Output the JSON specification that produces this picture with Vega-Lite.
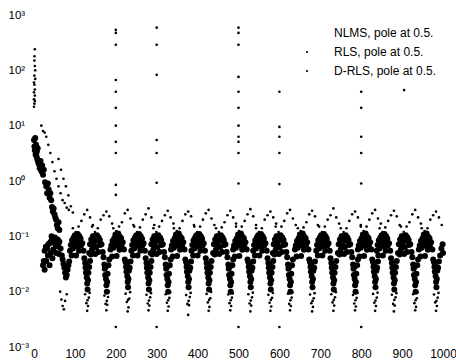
{
"$schema": "https://vega.github.io/schema/vega-lite/v6.json",
"width": 409, "height": 332,
"autosize": {"type": "none"},
"padding": {"left": 34, "top": 15, "right": 13, "bottom": 13},
"background": "white",
"config": {"view": {"stroke": null}, "font": "Liberation Sans"},
"datasets": {
"nlms": [
{"x":0,"y":5.5},{"x":1,"y":4.2},{"x":2,"y":3.6},{"x":3,"y":6.0},{"x":4,"y":3.0},{"x":5,"y":4.5},{"x":6,"y":2.8},{"x":7,"y":3.4},{"x":8,"y":2.5},{"x":9,"y":3.9},{"x":10,"y":2.2},{"x":12,"y":2.0},{"x":14,"y":1.7},{"x":16,"y":2.3},{"x":18,"y":1.5},{"x":20,"y":1.9},{"x":22,"y":1.3},{"x":24,"y":1.6},{"x":27,"y":0.95},{"x":30,"y":0.8},{"x":32,"y":0.6},{"x":34,"y":0.9},{"x":36,"y":0.7},{"x":38,"y":0.5},{"x":40,"y":0.6},{"x":42,"y":0.45},{"x":44,"y":0.34},{"x":46,"y":0.28},{"x":48,"y":0.32},{"x":50,"y":0.25},{"x":52,"y":0.22},{"x":54,"y":0.2},{"x":56,"y":0.16},{"x":58,"y":0.14},{"x":60,"y":0.18},{"x":62,"y":0.13},
{"x":26,"y":0.055},{"x":29,"y":0.065},{"x":32,"y":0.06},{"x":35,"y":0.072},{"x":38,"y":0.075},{"x":41,"y":0.08},{"x":44,"y":0.086},{"x":47,"y":0.082},{"x":50,"y":0.076},{"x":53,"y":0.07},{"x":56,"y":0.066},{"x":59,"y":0.072},{"x":62,"y":0.08},{"x":65,"y":0.06},{"x":34,"y":0.045},{"x":41,"y":0.05},{"x":47,"y":0.058},{"x":54,"y":0.05},{"x":61,"y":0.048},{"x":30,"y":0.036},{"x":38,"y":0.03},{"x":45,"y":0.04},{"x":22,"y":0.03},{"x":26,"y":0.025},{"x":24,"y":0.036},{"x":43,"y":0.1},{"x":51,"y":0.095},{"x":58,"y":0.088},{"x":68,"y":0.045},{"x":70,"y":0.038},{"x":72,"y":0.032},{"x":74,"y":0.027},{"x":76,"y":0.022},{"x":78,"y":0.018},{"x":80,"y":0.02},{"x":82,"y":0.025},{"x":84,"y":0.03},{"x":86,"y":0.035},{"x":79,"y":0.027},
{"x":88,"y":0.055},{"x":90,"y":0.07},{"x":92,"y":0.045},{"x":93,"y":0.085},{"x":95,"y":0.06},{"x":97,"y":0.095},{"x":98,"y":0.073},{"x":100,"y":0.105},{"x":101,"y":0.085},{"x":103,"y":0.045},{"x":104,"y":0.095},{"x":105,"y":0.066},{"x":107,"y":0.11},{"x":108,"y":0.08},{"x":110,"y":0.055},{"x":111,"y":0.1},{"x":114,"y":0.09},{"x":115,"y":0.068},{"x":118,"y":0.075},{"x":121,"y":0.055},{"x":123,"y":0.04},{"x":125,"y":0.033},{"x":126,"y":0.027},{"x":127,"y":0.022},{"x":128,"y":0.03},{"x":129,"y":0.018},{"x":130,"y":0.014},{"x":131,"y":0.011},{"x":132,"y":0.016},{"x":133,"y":0.022},{"x":135,"y":0.028},{"x":137,"y":0.036},
{"x":135,"y":0.05},{"x":137,"y":0.072},{"x":139,"y":0.047},{"x":140,"y":0.088},{"x":142,"y":0.058},{"x":144,"y":0.1},{"x":145,"y":0.07},{"x":147,"y":0.1},{"x":148,"y":0.082},{"x":150,"y":0.048},{"x":151,"y":0.098},{"x":152,"y":0.064},{"x":154,"y":0.105},{"x":155,"y":0.083},{"x":157,"y":0.052},{"x":158,"y":0.095},{"x":161,"y":0.086},{"x":162,"y":0.07},{"x":165,"y":0.072},{"x":168,"y":0.052},{"x":170,"y":0.042},{"x":172,"y":0.031},{"x":173,"y":0.026},{"x":174,"y":0.02},{"x":175,"y":0.028},{"x":176,"y":0.017},{"x":177,"y":0.013},{"x":178,"y":0.01},{"x":179,"y":0.015},{"x":180,"y":0.021},{"x":182,"y":0.03},{"x":184,"y":0.038},
{"x":187,"y":0.058},{"x":189,"y":0.068},{"x":191,"y":0.043},{"x":192,"y":0.082},{"x":194,"y":0.062},{"x":196,"y":0.092},{"x":197,"y":0.076},{"x":199,"y":0.108},{"x":200,"y":0.088},{"x":202,"y":0.044},{"x":203,"y":0.09},{"x":204,"y":0.068},{"x":206,"y":0.112},{"x":207,"y":0.078},{"x":209,"y":0.057},{"x":210,"y":0.098},{"x":213,"y":0.092},{"x":214,"y":0.066},{"x":217,"y":0.078},{"x":220,"y":0.058},{"x":222,"y":0.038},{"x":224,"y":0.034},{"x":225,"y":0.028},{"x":226,"y":0.023},{"x":227,"y":0.032},{"x":228,"y":0.019},{"x":229,"y":0.015},{"x":230,"y":0.012},{"x":231,"y":0.017},{"x":232,"y":0.024},{"x":234,"y":0.027},{"x":236,"y":0.035},
{"x":238,"y":0.055},{"x":240,"y":0.07},{"x":242,"y":0.045},{"x":243,"y":0.085},{"x":245,"y":0.06},{"x":247,"y":0.095},{"x":248,"y":0.073},{"x":250,"y":0.105},{"x":251,"y":0.085},{"x":253,"y":0.045},{"x":254,"y":0.095},{"x":255,"y":0.066},{"x":257,"y":0.11},{"x":258,"y":0.08},{"x":260,"y":0.055},{"x":261,"y":0.1},{"x":264,"y":0.09},{"x":265,"y":0.068},{"x":268,"y":0.075},{"x":271,"y":0.055},{"x":273,"y":0.04},{"x":275,"y":0.033},{"x":276,"y":0.027},{"x":277,"y":0.022},{"x":278,"y":0.03},{"x":279,"y":0.018},{"x":280,"y":0.014},{"x":281,"y":0.011},{"x":282,"y":0.016},{"x":283,"y":0.022},{"x":285,"y":0.028},{"x":287,"y":0.036},
{"x":285,"y":0.05},{"x":287,"y":0.072},{"x":289,"y":0.047},{"x":290,"y":0.088},{"x":292,"y":0.058},{"x":294,"y":0.1},{"x":295,"y":0.07},{"x":297,"y":0.1},{"x":298,"y":0.082},{"x":300,"y":0.048},{"x":301,"y":0.098},{"x":302,"y":0.064},{"x":304,"y":0.105},{"x":305,"y":0.083},{"x":307,"y":0.052},{"x":308,"y":0.095},{"x":311,"y":0.086},{"x":312,"y":0.07},{"x":315,"y":0.072},{"x":318,"y":0.052},{"x":320,"y":0.042},{"x":322,"y":0.031},{"x":323,"y":0.026},{"x":324,"y":0.02},{"x":325,"y":0.028},{"x":326,"y":0.017},{"x":327,"y":0.013},{"x":328,"y":0.01},{"x":329,"y":0.015},{"x":330,"y":0.021},{"x":332,"y":0.03},{"x":334,"y":0.038},
{"x":335,"y":0.058},{"x":337,"y":0.068},{"x":339,"y":0.043},{"x":340,"y":0.082},{"x":342,"y":0.062},{"x":344,"y":0.092},{"x":345,"y":0.076},{"x":347,"y":0.108},{"x":348,"y":0.088},{"x":350,"y":0.044},{"x":351,"y":0.09},{"x":352,"y":0.068},{"x":354,"y":0.112},{"x":355,"y":0.078},{"x":357,"y":0.057},{"x":358,"y":0.098},{"x":361,"y":0.092},{"x":362,"y":0.066},{"x":365,"y":0.078},{"x":368,"y":0.058},{"x":370,"y":0.038},{"x":372,"y":0.034},{"x":373,"y":0.028},{"x":374,"y":0.023},{"x":375,"y":0.032},{"x":376,"y":0.019},{"x":377,"y":0.015},{"x":378,"y":0.012},{"x":379,"y":0.017},{"x":380,"y":0.024},{"x":382,"y":0.027},{"x":384,"y":0.035},
{"x":385,"y":0.055},{"x":387,"y":0.07},{"x":389,"y":0.045},{"x":390,"y":0.085},{"x":392,"y":0.06},{"x":394,"y":0.095},{"x":395,"y":0.073},{"x":397,"y":0.105},{"x":398,"y":0.085},{"x":400,"y":0.045},{"x":401,"y":0.095},{"x":402,"y":0.066},{"x":404,"y":0.11},{"x":405,"y":0.08},{"x":407,"y":0.055},{"x":408,"y":0.1},{"x":411,"y":0.09},{"x":412,"y":0.068},{"x":415,"y":0.075},{"x":418,"y":0.055},{"x":420,"y":0.04},{"x":422,"y":0.033},{"x":423,"y":0.027},{"x":424,"y":0.022},{"x":425,"y":0.03},{"x":426,"y":0.018},{"x":427,"y":0.014},{"x":428,"y":0.011},{"x":429,"y":0.016},{"x":430,"y":0.022},{"x":432,"y":0.028},{"x":434,"y":0.036},
{"x":438,"y":0.05},{"x":440,"y":0.072},{"x":442,"y":0.047},{"x":443,"y":0.088},{"x":445,"y":0.058},{"x":447,"y":0.1},{"x":448,"y":0.07},{"x":450,"y":0.1},{"x":451,"y":0.082},{"x":453,"y":0.048},{"x":454,"y":0.098},{"x":455,"y":0.064},{"x":457,"y":0.105},{"x":458,"y":0.083},{"x":460,"y":0.052},{"x":461,"y":0.095},{"x":464,"y":0.086},{"x":465,"y":0.07},{"x":468,"y":0.072},{"x":471,"y":0.052},{"x":473,"y":0.042},{"x":475,"y":0.031},{"x":476,"y":0.026},{"x":477,"y":0.02},{"x":478,"y":0.028},{"x":479,"y":0.017},{"x":480,"y":0.013},{"x":481,"y":0.01},{"x":482,"y":0.015},{"x":483,"y":0.021},{"x":485,"y":0.03},{"x":487,"y":0.038},
{"x":487,"y":0.058},{"x":489,"y":0.068},{"x":491,"y":0.043},{"x":492,"y":0.082},{"x":494,"y":0.062},{"x":496,"y":0.092},{"x":497,"y":0.076},{"x":499,"y":0.108},{"x":500,"y":0.088},{"x":502,"y":0.044},{"x":503,"y":0.09},{"x":504,"y":0.068},{"x":506,"y":0.112},{"x":507,"y":0.078},{"x":509,"y":0.057},{"x":510,"y":0.098},{"x":513,"y":0.092},{"x":514,"y":0.066},{"x":517,"y":0.078},{"x":520,"y":0.058},{"x":522,"y":0.038},{"x":524,"y":0.034},{"x":525,"y":0.028},{"x":526,"y":0.023},{"x":527,"y":0.032},{"x":528,"y":0.019},{"x":529,"y":0.015},{"x":530,"y":0.012},{"x":531,"y":0.017},{"x":532,"y":0.024},{"x":534,"y":0.027},{"x":536,"y":0.035},
{"x":536,"y":0.055},{"x":538,"y":0.07},{"x":540,"y":0.045},{"x":541,"y":0.085},{"x":543,"y":0.06},{"x":545,"y":0.095},{"x":546,"y":0.073},{"x":548,"y":0.105},{"x":549,"y":0.085},{"x":551,"y":0.045},{"x":552,"y":0.095},{"x":553,"y":0.066},{"x":555,"y":0.11},{"x":556,"y":0.08},{"x":558,"y":0.055},{"x":559,"y":0.1},{"x":562,"y":0.09},{"x":563,"y":0.068},{"x":566,"y":0.075},{"x":569,"y":0.055},{"x":571,"y":0.04},{"x":573,"y":0.033},{"x":574,"y":0.027},{"x":575,"y":0.022},{"x":576,"y":0.03},{"x":577,"y":0.018},{"x":578,"y":0.014},{"x":579,"y":0.011},{"x":580,"y":0.016},{"x":581,"y":0.022},{"x":583,"y":0.028},{"x":585,"y":0.036},
{"x":584,"y":0.05},{"x":586,"y":0.072},{"x":588,"y":0.047},{"x":589,"y":0.088},{"x":591,"y":0.058},{"x":593,"y":0.1},{"x":594,"y":0.07},{"x":596,"y":0.1},{"x":597,"y":0.082},{"x":599,"y":0.048},{"x":600,"y":0.098},{"x":601,"y":0.064},{"x":603,"y":0.105},{"x":604,"y":0.083},{"x":606,"y":0.052},{"x":607,"y":0.095},{"x":610,"y":0.086},{"x":611,"y":0.07},{"x":614,"y":0.072},{"x":617,"y":0.052},{"x":619,"y":0.042},{"x":621,"y":0.031},{"x":622,"y":0.026},{"x":623,"y":0.02},{"x":624,"y":0.028},{"x":625,"y":0.017},{"x":626,"y":0.013},{"x":627,"y":0.01},{"x":628,"y":0.015},{"x":629,"y":0.021},{"x":631,"y":0.03},{"x":633,"y":0.038},
{"x":638,"y":0.058},{"x":640,"y":0.068},{"x":642,"y":0.043},{"x":643,"y":0.082},{"x":645,"y":0.062},{"x":647,"y":0.092},{"x":648,"y":0.076},{"x":650,"y":0.108},{"x":651,"y":0.088},{"x":653,"y":0.044},{"x":654,"y":0.09},{"x":655,"y":0.068},{"x":657,"y":0.112},{"x":658,"y":0.078},{"x":660,"y":0.057},{"x":661,"y":0.098},{"x":664,"y":0.092},{"x":665,"y":0.066},{"x":668,"y":0.078},{"x":671,"y":0.058},{"x":673,"y":0.038},{"x":675,"y":0.034},{"x":676,"y":0.028},{"x":677,"y":0.023},{"x":678,"y":0.032},{"x":679,"y":0.019},{"x":680,"y":0.015},{"x":681,"y":0.012},{"x":682,"y":0.017},{"x":683,"y":0.024},{"x":685,"y":0.027},{"x":687,"y":0.035},
{"x":690,"y":0.055},{"x":692,"y":0.07},{"x":694,"y":0.045},{"x":695,"y":0.085},{"x":697,"y":0.06},{"x":699,"y":0.095},{"x":700,"y":0.073},{"x":702,"y":0.105},{"x":703,"y":0.085},{"x":705,"y":0.045},{"x":706,"y":0.095},{"x":707,"y":0.066},{"x":709,"y":0.11},{"x":710,"y":0.08},{"x":712,"y":0.055},{"x":713,"y":0.1},{"x":716,"y":0.09},{"x":717,"y":0.068},{"x":720,"y":0.075},{"x":723,"y":0.055},{"x":725,"y":0.04},{"x":727,"y":0.033},{"x":728,"y":0.027},{"x":729,"y":0.022},{"x":730,"y":0.03},{"x":731,"y":0.018},{"x":732,"y":0.014},{"x":733,"y":0.011},{"x":734,"y":0.016},{"x":735,"y":0.022},{"x":737,"y":0.028},{"x":739,"y":0.036},
{"x":743,"y":0.05},{"x":745,"y":0.072},{"x":747,"y":0.047},{"x":748,"y":0.088},{"x":750,"y":0.058},{"x":752,"y":0.1},{"x":753,"y":0.07},{"x":755,"y":0.1},{"x":756,"y":0.082},{"x":758,"y":0.048},{"x":759,"y":0.098},{"x":760,"y":0.064},{"x":762,"y":0.105},{"x":763,"y":0.083},{"x":765,"y":0.052},{"x":766,"y":0.095},{"x":769,"y":0.086},{"x":770,"y":0.07},{"x":773,"y":0.072},{"x":776,"y":0.052},{"x":778,"y":0.042},{"x":780,"y":0.031},{"x":781,"y":0.026},{"x":782,"y":0.02},{"x":783,"y":0.028},{"x":784,"y":0.017},{"x":785,"y":0.013},{"x":786,"y":0.01},{"x":787,"y":0.015},{"x":788,"y":0.021},{"x":790,"y":0.03},{"x":792,"y":0.038},
{"x":792,"y":0.058},{"x":794,"y":0.068},{"x":796,"y":0.043},{"x":797,"y":0.082},{"x":799,"y":0.062},{"x":801,"y":0.092},{"x":802,"y":0.076},{"x":804,"y":0.108},{"x":805,"y":0.088},{"x":807,"y":0.044},{"x":808,"y":0.09},{"x":809,"y":0.068},{"x":811,"y":0.112},{"x":812,"y":0.078},{"x":814,"y":0.057},{"x":815,"y":0.098},{"x":818,"y":0.092},{"x":819,"y":0.066},{"x":822,"y":0.078},{"x":825,"y":0.058},{"x":827,"y":0.038},{"x":829,"y":0.034},{"x":830,"y":0.028},{"x":831,"y":0.023},{"x":832,"y":0.032},{"x":833,"y":0.019},{"x":834,"y":0.015},{"x":835,"y":0.012},{"x":836,"y":0.017},{"x":837,"y":0.024},{"x":839,"y":0.027},{"x":841,"y":0.035},
{"x":838,"y":0.055},{"x":840,"y":0.07},{"x":842,"y":0.045},{"x":843,"y":0.085},{"x":845,"y":0.06},{"x":847,"y":0.095},{"x":848,"y":0.073},{"x":850,"y":0.105},{"x":851,"y":0.085},{"x":853,"y":0.045},{"x":854,"y":0.095},{"x":855,"y":0.066},{"x":857,"y":0.11},{"x":858,"y":0.08},{"x":860,"y":0.055},{"x":861,"y":0.1},{"x":864,"y":0.09},{"x":865,"y":0.068},{"x":868,"y":0.075},{"x":871,"y":0.055},{"x":873,"y":0.04},{"x":875,"y":0.033},{"x":876,"y":0.027},{"x":877,"y":0.022},{"x":878,"y":0.03},{"x":879,"y":0.018},{"x":880,"y":0.014},{"x":881,"y":0.011},{"x":882,"y":0.016},{"x":883,"y":0.022},{"x":885,"y":0.028},{"x":887,"y":0.036},
{"x":890,"y":0.05},{"x":892,"y":0.072},{"x":894,"y":0.047},{"x":895,"y":0.088},{"x":897,"y":0.058},{"x":899,"y":0.1},{"x":900,"y":0.07},{"x":902,"y":0.1},{"x":903,"y":0.082},{"x":905,"y":0.048},{"x":906,"y":0.098},{"x":907,"y":0.064},{"x":909,"y":0.105},{"x":910,"y":0.083},{"x":912,"y":0.052},{"x":913,"y":0.095},{"x":916,"y":0.086},{"x":917,"y":0.07},{"x":920,"y":0.072},{"x":923,"y":0.052},{"x":925,"y":0.042},{"x":927,"y":0.031},{"x":928,"y":0.026},{"x":929,"y":0.02},{"x":930,"y":0.028},{"x":931,"y":0.017},{"x":932,"y":0.013},{"x":933,"y":0.01},{"x":934,"y":0.015},{"x":935,"y":0.021},{"x":937,"y":0.03},{"x":939,"y":0.038},
{"x":941,"y":0.058},{"x":943,"y":0.068},{"x":945,"y":0.043},{"x":946,"y":0.082},{"x":948,"y":0.062},{"x":950,"y":0.092},{"x":951,"y":0.076},{"x":953,"y":0.108},{"x":954,"y":0.088},{"x":956,"y":0.044},{"x":957,"y":0.09},{"x":958,"y":0.068},{"x":960,"y":0.112},{"x":961,"y":0.078},{"x":963,"y":0.057},{"x":964,"y":0.098},{"x":967,"y":0.092},{"x":968,"y":0.066},{"x":971,"y":0.078},{"x":974,"y":0.058},{"x":976,"y":0.038},{"x":978,"y":0.034},{"x":979,"y":0.028},{"x":980,"y":0.023},{"x":981,"y":0.032},{"x":982,"y":0.019},{"x":983,"y":0.015},{"x":984,"y":0.012},{"x":985,"y":0.017},{"x":986,"y":0.024},{"x":988,"y":0.027},{"x":990,"y":0.035},{"x":993,"y":0.045},{"x":996,"y":0.06},{"x":999,"y":0.072},{"x":1000,"y":0.05}
],
"rls": [
{"x":0,"y":30},{"x":1,"y":80},{"x":1,"y":150},{"x":2,"y":45},{"x":2,"y":240},{"x":0,"y":60},{"x":1,"y":25},{"x":3,"y":100},{"x":2,"y":35},{"x":1,"y":55},{"x":0,"y":40},{"x":3,"y":70},{"x":2,"y":120},{"x":1,"y":180},{"x":0,"y":22},{"x":2,"y":28},
{"x":18,"y":10},{"x":22,"y":8},{"x":26,"y":7.5},{"x":30,"y":6.3},{"x":35,"y":4.5},{"x":40,"y":3.2},{"x":45,"y":2.2},{"x":50,"y":1.5},{"x":55,"y":1.1},{"x":60,"y":0.8},{"x":65,"y":0.6},{"x":70,"y":0.45},{"x":75,"y":0.4},{"x":80,"y":0.33},{"x":85,"y":0.3},{"x":90,"y":0.35},{"x":95,"y":0.27},{"x":60,"y":2.5},{"x":66,"y":1.6},{"x":72,"y":1.1},{"x":78,"y":0.8},{"x":84,"y":0.55},
{"x":95,"y":0.14},{"x":102,"y":0.12},{"x":109,"y":0.15},{"x":116,"y":0.19},{"x":123,"y":0.25},{"x":130,"y":0.3},{"x":137,"y":0.22},{"x":144,"y":0.16},
{"x":142,"y":0.15},{"x":149,"y":0.12},{"x":156,"y":0.14},{"x":163,"y":0.2},{"x":170,"y":0.24},{"x":177,"y":0.28},{"x":184,"y":0.23},{"x":191,"y":0.17},
{"x":194,"y":0.14},{"x":201,"y":0.125},{"x":208,"y":0.15},{"x":215,"y":0.18},{"x":222,"y":0.26},{"x":229,"y":0.3},{"x":236,"y":0.21},{"x":243,"y":0.16},
{"x":245,"y":0.15},{"x":252,"y":0.12},{"x":259,"y":0.145},{"x":266,"y":0.2},{"x":273,"y":0.25},{"x":280,"y":0.32},{"x":287,"y":0.22},{"x":294,"y":0.16},
{"x":292,"y":0.14},{"x":299,"y":0.12},{"x":306,"y":0.15},{"x":313,"y":0.19},{"x":320,"y":0.24},{"x":327,"y":0.29},{"x":334,"y":0.22},{"x":341,"y":0.17},
{"x":342,"y":0.14},{"x":349,"y":0.125},{"x":356,"y":0.14},{"x":363,"y":0.19},{"x":370,"y":0.25},{"x":377,"y":0.28},{"x":384,"y":0.23},{"x":391,"y":0.16},
{"x":392,"y":0.15},{"x":399,"y":0.12},{"x":406,"y":0.15},{"x":413,"y":0.2},{"x":420,"y":0.26},{"x":427,"y":0.3},{"x":434,"y":0.21},{"x":441,"y":0.16},
{"x":445,"y":0.14},{"x":452,"y":0.12},{"x":459,"y":0.145},{"x":466,"y":0.18},{"x":473,"y":0.24},{"x":480,"y":0.29},{"x":487,"y":0.22},{"x":494,"y":0.17},
{"x":494,"y":0.15},{"x":501,"y":0.125},{"x":508,"y":0.15},{"x":515,"y":0.19},{"x":522,"y":0.25},{"x":529,"y":0.31},{"x":536,"y":0.23},{"x":543,"y":0.16},
{"x":543,"y":0.14},{"x":550,"y":0.12},{"x":557,"y":0.14},{"x":564,"y":0.2},{"x":571,"y":0.24},{"x":578,"y":0.28},{"x":585,"y":0.22},{"x":592,"y":0.17},
{"x":591,"y":0.15},{"x":598,"y":0.12},{"x":605,"y":0.15},{"x":612,"y":0.19},{"x":619,"y":0.26},{"x":626,"y":0.3},{"x":633,"y":0.21},{"x":640,"y":0.16},
{"x":645,"y":0.14},{"x":652,"y":0.125},{"x":659,"y":0.145},{"x":666,"y":0.18},{"x":673,"y":0.25},{"x":680,"y":0.29},{"x":687,"y":0.23},{"x":694,"y":0.16},
{"x":697,"y":0.15},{"x":704,"y":0.12},{"x":711,"y":0.15},{"x":718,"y":0.2},{"x":725,"y":0.24},{"x":732,"y":0.32},{"x":739,"y":0.22},{"x":746,"y":0.17},
{"x":750,"y":0.14},{"x":757,"y":0.12},{"x":764,"y":0.14},{"x":771,"y":0.19},{"x":778,"y":0.25},{"x":785,"y":0.28},{"x":792,"y":0.22},{"x":799,"y":0.16},
{"x":799,"y":0.15},{"x":806,"y":0.125},{"x":813,"y":0.15},{"x":820,"y":0.2},{"x":827,"y":0.26},{"x":834,"y":0.3},{"x":841,"y":0.21},{"x":848,"y":0.17},
{"x":845,"y":0.14},{"x":852,"y":0.12},{"x":859,"y":0.145},{"x":866,"y":0.19},{"x":873,"y":0.24},{"x":880,"y":0.29},{"x":887,"y":0.23},{"x":894,"y":0.16},
{"x":897,"y":0.15},{"x":904,"y":0.12},{"x":911,"y":0.15},{"x":918,"y":0.18},{"x":925,"y":0.25},{"x":932,"y":0.3},{"x":939,"y":0.22},{"x":946,"y":0.17},
{"x":948,"y":0.14},{"x":955,"y":0.125},{"x":962,"y":0.14},{"x":969,"y":0.2},{"x":976,"y":0.24},{"x":983,"y":0.28},{"x":990,"y":0.22},{"x":997,"y":0.16}
],
"drls": [
{"x":200,"y":540},{"x":200,"y":475},{"x":200,"y":290},{"x":200,"y":67},{"x":200,"y":41},{"x":200,"y":21},{"x":200,"y":10},{"x":200,"y":5.1},{"x":200,"y":3.2},{"x":200,"y":0.85},{"x":200,"y":0.56},{"x":200,"y":0.0023},
{"x":300,"y":590},{"x":300,"y":290},{"x":300,"y":83},{"x":300,"y":5.5},{"x":300,"y":3.2},{"x":300,"y":0.93},{"x":300,"y":0.0023},
{"x":500,"y":590},{"x":500,"y":475},{"x":500,"y":290},{"x":500,"y":76},{"x":500,"y":41},{"x":500,"y":21},{"x":500,"y":10},{"x":500,"y":6.3},{"x":500,"y":5.1},{"x":500,"y":3.2},{"x":500,"y":0.9},{"x":500,"y":0.0023},
{"x":600,"y":41},{"x":600,"y":9.5},{"x":600,"y":6.3},{"x":600,"y":3.2},{"x":600,"y":0.88},{"x":600,"y":0.0023},
{"x":800,"y":41},{"x":800,"y":21},{"x":800,"y":6.3},{"x":800,"y":3.2},{"x":800,"y":0.9},{"x":800,"y":0.0023},{"x":905,"y":44},
{"x":64,"y":0.01},{"x":67,"y":0.0072},{"x":70,"y":0.0055},{"x":73,"y":0.0048},{"x":76,"y":0.0068},{"x":80,"y":0.009},
{"x":125,"y":0.009},{"x":128,"y":0.0062},{"x":130,"y":0.0045},{"x":132,"y":0.0055},{"x":134,"y":0.0078},{"x":136,"y":0.0095},{"x":131,"y":0.007},
{"x":172,"y":0.0085},{"x":175,"y":0.006},{"x":177,"y":0.0046},{"x":179,"y":0.0058},{"x":181,"y":0.008},{"x":183,"y":0.01},{"x":178,"y":0.0068},
{"x":224,"y":0.0092},{"x":227,"y":0.0065},{"x":229,"y":0.0044},{"x":231,"y":0.0052},{"x":233,"y":0.0075},{"x":235,"y":0.0098},{"x":230,"y":0.0071},
{"x":275,"y":0.0088},{"x":278,"y":0.0061},{"x":280,"y":0.0046},{"x":282,"y":0.0056},{"x":284,"y":0.0079},{"x":286,"y":0.0094},{"x":281,"y":0.0069},
{"x":322,"y":0.009},{"x":325,"y":0.0063},{"x":327,"y":0.0045},{"x":329,"y":0.0054},{"x":331,"y":0.0077},{"x":333,"y":0.0097},{"x":328,"y":0.007},
{"x":372,"y":0.0087},{"x":375,"y":0.006},{"x":377,"y":0.0038},{"x":379,"y":0.0057},{"x":381,"y":0.008},{"x":383,"y":0.0095},{"x":378,"y":0.0068},
{"x":422,"y":0.0091},{"x":425,"y":0.0064},{"x":427,"y":0.0045},{"x":429,"y":0.0053},{"x":431,"y":0.0076},{"x":433,"y":0.0099},{"x":428,"y":0.0071},
{"x":475,"y":0.0089},{"x":478,"y":0.0062},{"x":480,"y":0.0046},{"x":482,"y":0.0055},{"x":484,"y":0.0078},{"x":486,"y":0.0093},{"x":481,"y":0.007},
{"x":524,"y":0.009},{"x":527,"y":0.0061},{"x":529,"y":0.0044},{"x":531,"y":0.0056},{"x":533,"y":0.0079},{"x":535,"y":0.0096},{"x":530,"y":0.0069},
{"x":573,"y":0.0088},{"x":576,"y":0.0063},{"x":578,"y":0.0045},{"x":580,"y":0.0054},{"x":582,"y":0.0077},{"x":584,"y":0.0095},{"x":579,"y":0.0071},
{"x":621,"y":0.0092},{"x":624,"y":0.006},{"x":626,"y":0.0046},{"x":628,"y":0.0055},{"x":630,"y":0.0078},{"x":632,"y":0.0097},{"x":627,"y":0.007},
{"x":675,"y":0.0089},{"x":678,"y":0.0062},{"x":680,"y":0.0044},{"x":682,"y":0.0053},{"x":684,"y":0.0076},{"x":686,"y":0.0094},{"x":681,"y":0.0068},
{"x":727,"y":0.009},{"x":730,"y":0.0064},{"x":732,"y":0.0045},{"x":734,"y":0.0056},{"x":736,"y":0.0079},{"x":738,"y":0.0098},{"x":733,"y":0.0071},
{"x":780,"y":0.0087},{"x":783,"y":0.0061},{"x":785,"y":0.0046},{"x":787,"y":0.0054},{"x":789,"y":0.0077},{"x":791,"y":0.0095},{"x":786,"y":0.007},
{"x":829,"y":0.0091},{"x":832,"y":0.0063},{"x":834,"y":0.0045},{"x":836,"y":0.0055},{"x":838,"y":0.0078},{"x":840,"y":0.0096},{"x":835,"y":0.0069},
{"x":875,"y":0.0088},{"x":878,"y":0.006},{"x":880,"y":0.0044},{"x":882,"y":0.0056},{"x":884,"y":0.0079},{"x":886,"y":0.0094},{"x":881,"y":0.0071},
{"x":927,"y":0.009},{"x":930,"y":0.0062},{"x":932,"y":0.0046},{"x":934,"y":0.0053},{"x":936,"y":0.0076},{"x":938,"y":0.0097},{"x":933,"y":0.007},
{"x":978,"y":0.0089},{"x":981,"y":0.0064},{"x":983,"y":0.0045},{"x":985,"y":0.0055},{"x":987,"y":0.0078},{"x":989,"y":0.0095},{"x":984,"y":0.0068}
]
},
"encoding": {
"x": {"field": "x", "type": "quantitative", "scale": {"domain": [0, 1000], "nice": false, "zero": false},
"axis": {"title": null, "values": [0,100,200,300,400,500,600,700,800,900,1000], "format": "d", "grid": false, "domain": false, "ticks": false, "tickSize": 0, "labelPadding": 1, "labelFontSize": 12, "labelColor": "black", "labelFlush": false, "labelOverlap": false, "labelBound": false}},
"y": {"field": "y", "type": "quantitative", "scale": {"type": "log", "domain": [0.001, 1000], "nice": false},
"axis": {"title": null, "values": [0.001,0.01,0.1,1,10,100,1000], "labelExpr": "datum.value >= 999 ? '10\u00b3' : datum.value >= 99 ? '10\u00b2' : datum.value >= 9 ? '10\u00b9' : datum.value >= 0.9 ? '10\u2070' : datum.value >= 0.09 ? '10\u207b\u00b9' : datum.value >= 0.009 ? '10\u207b\u00b2' : '10\u207b\u00b3'", "grid": false, "domain": false, "ticks": false, "tickSize": 0, "labelAlign": "left", "labelPadding": 26, "labelFontSize": 11.5, "labelColor": "black", "labelOverlap": false, "labelBound": false, "labelFlush": false}}
},
"layer": [
{"data": {"name": "nlms"}, "mark": {"type": "point", "filled": true, "size": 36, "opacity": 1},
"encoding": {"color": {"datum": "NLMS, pole at 0.5.", "scale": {"domain": ["NLMS, pole at 0.5.", "RLS, pole at 0.5.", "D-RLS, pole at 0.5."], "range": ["#000000", "#000000", "#000000"]},
"legend": {"orient": "none", "legendX": 267, "legendY": 12, "title": null, "labelFontSize": 12, "labelColor": "black", "symbolSize": 5, "symbolType": "circle", "symbolStrokeWidth": 0, "labelOffset": 21, "rowPadding": 7, "padding": 0,
"encoding": {"symbols": {"size": {"value": {"expr": "datum.value === 'NLMS, pole at 0.5.' ? 0 : 5"}}, "opacity": {"value": {"expr": "datum.value === 'NLMS, pole at 0.5.' ? 0 : 1"}}}}}}}},
{"data": {"name": "rls"}, "mark": {"type": "point", "filled": true, "size": 7, "opacity": 1},
"encoding": {"color": {"datum": "RLS, pole at 0.5."}}},
{"data": {"name": "drls"}, "mark": {"type": "point", "filled": true, "size": 7, "opacity": 1},
"encoding": {"color": {"datum": "D-RLS, pole at 0.5."}}}
]
}
